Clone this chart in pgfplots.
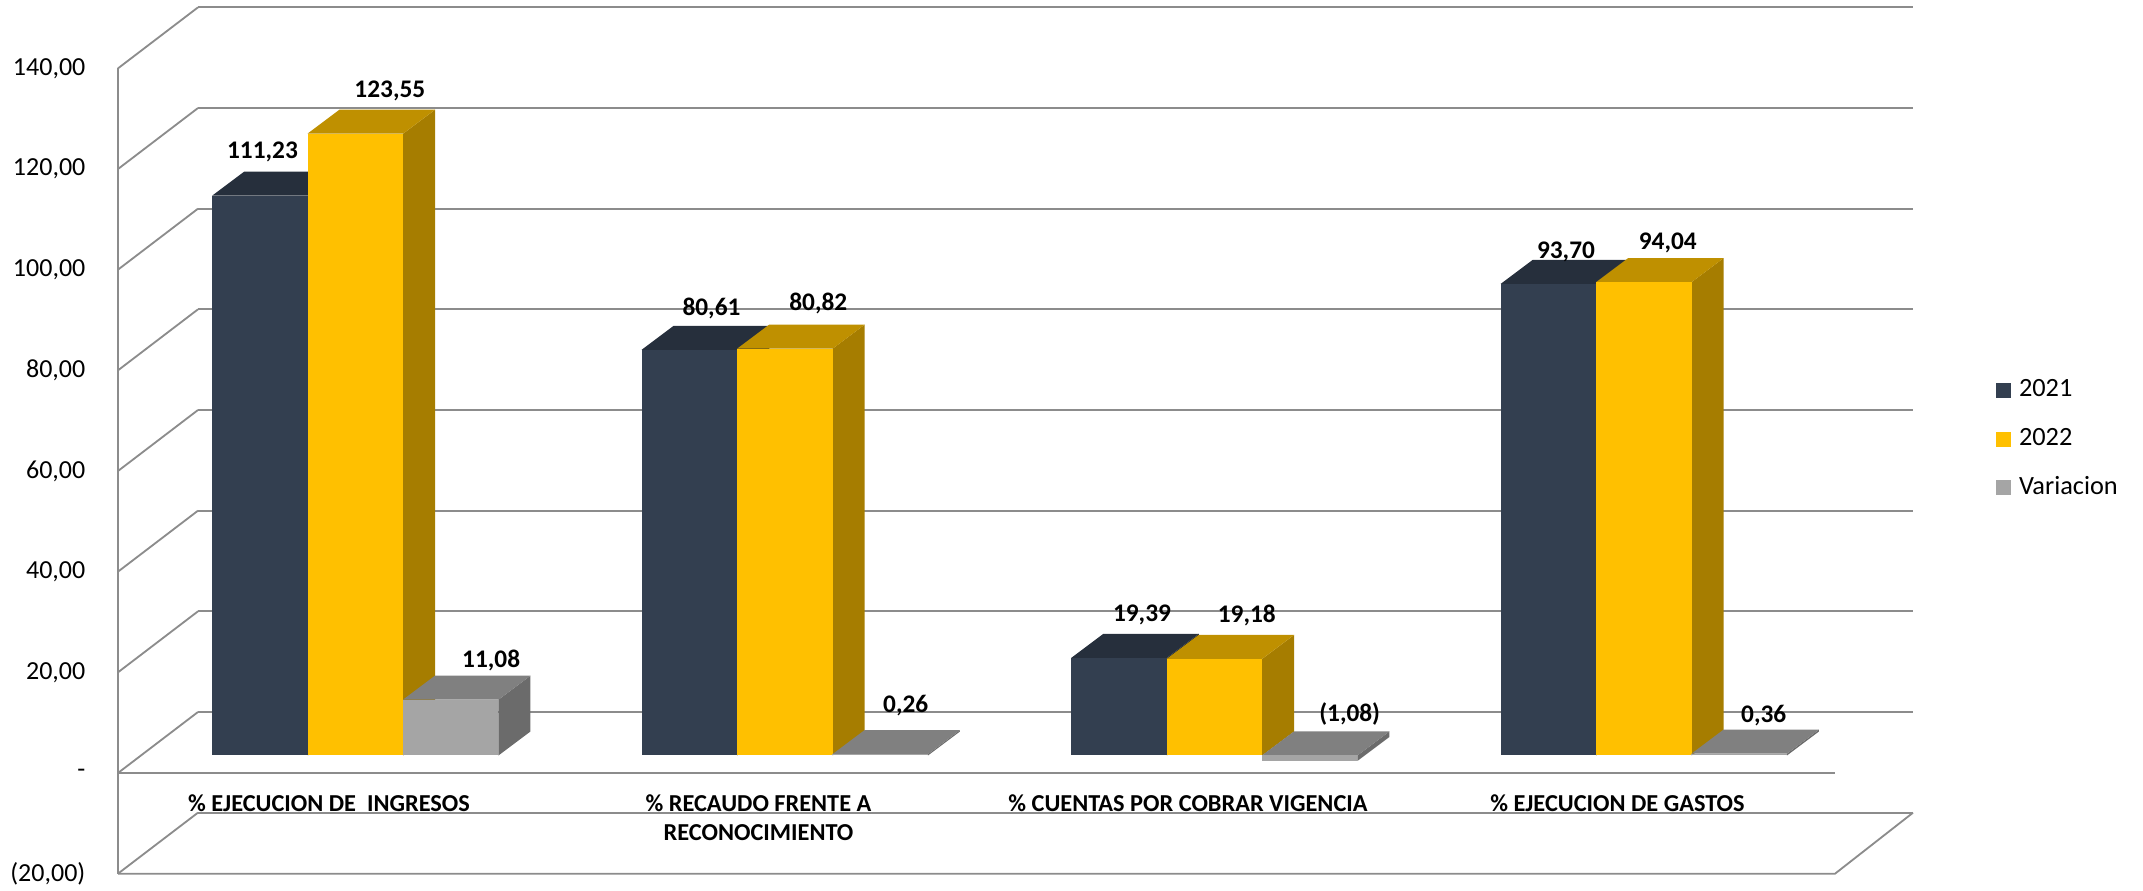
\documentclass[border=0pt]{standalone}
\usepackage{pgfplots}
\usepackage{pgfplotstable}
\pgfplotsset{compat=1.18}
\usepackage{fontspec}
\setmainfont{Carlito}
\definecolor{cA}{RGB}{51,63,80}
\definecolor{cAt}{RGB}{38,47,60}
\definecolor{cAs}{RGB}{31,39,49}
\definecolor{cB}{RGB}{255,192,0}
\definecolor{cBt}{RGB}{191,144,0}
\definecolor{cBs}{RGB}{166,125,0}
\definecolor{cC}{RGB}{165,165,165}
\definecolor{cCt}{RGB}{128,128,128}
\definecolor{cCs}{RGB}{107,107,107}
\definecolor{gridc}{RGB}{140,140,140}

% 3D bar mark: front face, top face and side face, height from the data value
\newcommand\defbarmark[4]{%
  \pgfdeclareplotmark{#1}{%
    \pgfmathsetmacro\hh{\val*1.51}%
    \pgfmathsetmacro\yb{min(-1*(\hh),0)}%
    \pgfmathsetmacro\yt{max(-1*(\hh),0)}%
    \pgfsetfillcolor{#4}%
    \pgfpathmoveto{\pgfpoint{14.33pt}{\yb pt}}%
    \pgfpathlineto{\pgfpoint{23.93pt}{\yb pt+7.2pt}}%
    \pgfpathlineto{\pgfpoint{23.93pt}{\yt pt+7.2pt}}%
    \pgfpathlineto{\pgfpoint{14.33pt}{\yt pt}}%
    \pgfpathclose
    \pgfusepath{fill}%
    \pgfsetfillcolor{#3}%
    \pgfpathmoveto{\pgfpoint{-14.33pt}{\yt pt}}%
    \pgfpathlineto{\pgfpoint{14.33pt}{\yt pt}}%
    \pgfpathlineto{\pgfpoint{23.93pt}{\yt pt+7.2pt}}%
    \pgfpathlineto{\pgfpoint{-4.73pt}{\yt pt+7.2pt}}%
    \pgfpathclose
    \pgfusepath{fill}%
    \pgfsetfillcolor{#2}%
    \pgfpathrectanglecorners{\pgfpoint{-14.33pt}{\yb pt}}{\pgfpoint{14.33pt}{\yt pt}}%
    \pgfusepath{fill}%
  }}
\defbarmark{barA}{cA}{cAt}{cAs}
\defbarmark{barB}{cB}{cBt}{cBs}
\defbarmark{barC}{cC}{cCt}{cCs}

% x = category position, y = value, lab = printed label, dx/dy = label offset (pt)
\pgfplotstableread{
x y lab dx dy
-0.222 111.23 111,23 0.75 13.05
0.778 80.61 80,61 6.6 12.3
1.778 19.39 19,39 6.9 12.75
2.778 93.70 93,70 5.25 9.45
}\tA
\pgfplotstableread{
x y lab dx dy
0 123.55 123,55 10.35 12.9
1 80.82 80,82 10.05 13.5
2 19.18 19,18 9.75 12.9
3 94.04 94,04 7.2 11.85
}\tB
\pgfplotstableread{
x y lab dx dy
0.222 11.08 11,08 12.15 11.7
1.222 0.26 0,26 7.65 14.7
2.222 -1.08 (1,08) 12.0 14.2
3.222 0.36 0,36 7.35 11.55
}\tC

\pgfplotsset{
  bar3d/.style={forget plot, scatter, only marks, mark=#1,
    scatter/@pre marker code/.code={}, scatter/@post marker code/.code={},
    point meta=explicit symbolic,
    visualization depends on={rawy \as \val},
    visualization depends on={\thisrow{dx} \as \ldx},
    visualization depends on={\thisrow{dy} \as \ldy},
    nodes near coords,
    every node near coord/.append style={anchor=center, inner sep=0pt,
      xshift=\ldx pt, yshift=\ldy pt, text=black,
      font=\bfseries\fontsize{7.6}{9}\selectfont}},
}

\begin{document}
\begin{tikzpicture}
% back wall with its gridlines
\begin{axis}[
  at={(59.4pt,23.49pt)}, anchor=south west,
  scale only axis, width=514.5pt, height=241.6pt,
  xmin=0, xmax=1, ymin=-20, ymax=140,
  axis line style={draw=none},
  xtick=\empty,
  ytick={-20,0,20,40,60,80,100,120,140},
  yticklabels={{(20,00)},{-\hspace{5pt}},{20,00},{40,00},{60,00},{80,00},{100,00},{120,00},{140,00}},
  major tick length=0pt,
  ymajorgrids,
  grid style={gridc, line width=0.55pt},
  yticklabel style={anchor=east, inner sep=0pt, xshift=-33.6pt, yshift=-18.3pt,
    font=\fontsize{7.8}{9}\selectfont},
]
\end{axis}

% left wall and floor edges
\begin{scope}[x=0.3pt, y=0.3pt, draw=gridc, line width=0.55pt]
  \draw (118,17.3) -- (118,822.6);
  \foreach \v in {-20,0,20,40,60,80,100,120,140} {
    \draw (118,{118+5.033*\v}) -- (198,{179+5.033*\v});
  }
  \draw (118,118) -- (1835,118);
  \draw (118,17.3) -- (1835,17.3) -- (1913,78.3);
\end{scope}

% bars
\begin{axis}[
  at={(106.6pt,40.65pt)}, anchor=origin,
  x=128.85pt, y=1.51pt,
  xmin=-0.6, xmax=3.6, ymin=-20, ymax=140,
  clip=false,
  axis line style={draw=none},
  major tick length=0pt,
  ytick=\empty,
  xtick={0,1,2,3},
  xticklabels={{\% EJECUCION DE~~INGRESOS},{\% RECAUDO FRENTE A\\RECONOCIMIENTO},{\% CUENTAS POR COBRAR VIGENCIA},{\% EJECUCION DE GASTOS}},
  xticklabel style={anchor=north, inner sep=0pt, yshift=18.6pt, xshift=-7.9pt,
    align=center, font=\bfseries\fontsize{7.3}{8.6}\selectfont},
  legend style={at={(axis description cs:1.0518,0.5173)}, anchor=west,
    draw=none, fill=none, inner sep=0pt, row sep=7.8pt, column sep=2.5pt,
    font=\fontsize{7.9}{9.5}\selectfont, nodes={inner sep=0pt}},
  legend cell align=left,
  legend image code/.code={\fill[#1] (0pt,-2.25pt) rectangle (4.5pt,2.25pt);},
]
\addplot[bar3d=barA] table[x=x, y=y, meta=lab] {\tA};
\addplot[bar3d=barB] table[x=x, y=y, meta=lab] {\tB};
\addplot[bar3d=barC] table[x=x, y=y, meta=lab] {\tC};
\addlegendimage{fill=cA, draw=none}
\addlegendentry{2021}
\addlegendimage{fill=cB, draw=none}
\addlegendentry{2022}
\addlegendimage{fill=cC, draw=none}
\addlegendentry{Variacion}
\end{axis}
\pgfresetboundingbox
\path[use as bounding box] (0,0) rectangle (642.9pt,267.3pt);
\end{tikzpicture}
\end{document}
